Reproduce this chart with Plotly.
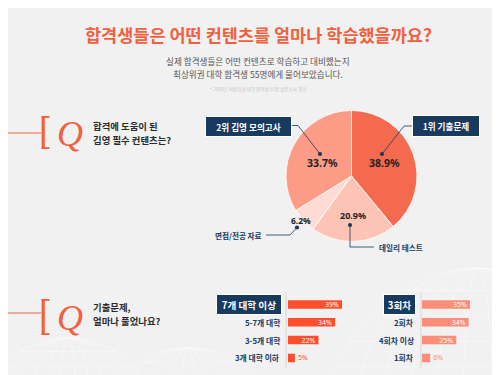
import math
import plotly.graph_objects as go

W, H = 500, 375
def px(x): return x / W
def py(y): return 1 - y / H

# ---------------- data ----------------
title = "합격생들은 어떤 컨텐츠를 얼마나 학습했을까요?"
subtitle1 = "실제 합격생들은 어떤 컨텐츠로 학습하고 대비했는지"
subtitle2 = "최상위권 대학 합격생 55명에게 물어보았습니다."
footnote = "* 2018년 최상위권 대학 합격생 55명 설문조사 결과"

q1_lines = ["합격에 도움이 된", "김영 필수 컨텐츠는?"]
q2_lines = ["기출문제,", "얼마나 풀었나요?"]

pie_labels = ["1위 기출문제", "데일리 테스트", "면접/전공 자료", "2위 김영 모의고사"]
pie_values = [38.9, 20.9, 6.2, 33.7]
pie_colors = ["#f36a4e", "#fdc4b6", "#fedcd3", "#fc9c86"]

univ_cats = ["7개 대학 이상", "5-7개 대학", "3-5개 대학", "3개 대학 이하"]
univ_vals = [39, 34, 22, 5]
round_cats = ["3회차", "2회차", "4회차 이상", "1회차"]
round_vals = [35, 34, 25, 6]

NAVY = "#173a5e"
ORANGE = "#f2603f"
KR = "Noto Sans CJK KR"
BG = "#f1f1f1"

fig = go.Figure()

# ---------------- pie ----------------
cx, cy, r = 343.5, 168.0, 65.5
fig.add_trace(go.Pie(
    values=pie_values, labels=pie_labels, sort=False, direction="clockwise",
    rotation=0, textinfo="none", hoverinfo="skip", showlegend=False,
    marker=dict(colors=pie_colors, line=dict(color="#ffffff", width=0.8)),
    domain=dict(x=[px(cx - r), px(cx + r)], y=[py(cy + r), py(cy - r)]),
))

# ---------------- bars ----------------
def bar_trace(vals, cats, color, xa, ya):
    return go.Bar(
        x=vals, y=cats, orientation="h", width=0.48,
        marker=dict(color=color, line=dict(width=0)),
        text=[f"{v}%" for v in vals],
        textposition=["inside" if v > 8 else "outside" for v in vals],
        insidetextanchor="end", constraintext="none", textangle=0,
        insidetextfont=dict(color="white", size=7, family="Noto Sans"),
        outsidetextfont=dict(color=color, size=7, family="Noto Sans"),
        cliponaxis=False, hoverinfo="skip", showlegend=False,
        xaxis=xa, yaxis=ya,
    )

fig.add_trace(bar_trace(univ_vals, univ_cats, "#ff4e2c", "x", "y"))
fig.add_trace(bar_trace(round_vals, round_cats, "#fc8d78", "x2", "y2"))

row_top, row_bot = 287.6, 358.8
ax_common = dict(showgrid=False, zeroline=False, showticklabels=False, ticks="", showline=False)
layout_axes = dict(
    xaxis=dict(domain=[px(280), px(340)], range=[0, 43.3], **ax_common),
    yaxis=dict(domain=[py(row_bot), py(row_top)], type="category", categoryorder="array",
               categoryarray=univ_cats, range=[3.5, -0.5], anchor="x", **ax_common),
    xaxis2=dict(domain=[px(414), px(474)], range=[0, 43.75], anchor="y2", **ax_common),
    yaxis2=dict(domain=[py(row_bot), py(row_top)], type="category", categoryorder="array",
                categoryarray=round_cats, range=[3.5, -0.5], anchor="x2", **ax_common),
)

shapes = []
annotations = []

def line(x0, y0, x1, y1, color, width, layer="above"):
    shapes.append(dict(type="line", xref="paper", yref="paper", x0=px(x0), y0=py(y0),
                       x1=px(x1), y1=py(y1), line=dict(color=color, width=width), layer=layer))

def path(pts, color, width):
    d = "M " + " L ".join(f"{px(a)},{py(b)}" for a, b in pts)
    shapes.append(dict(type="path", xref="paper", yref="paper", path=d,
                       line=dict(color=color, width=width), layer="above"))

def dot(x, y, rr=2.1, color=NAVY):
    shapes.append(dict(type="circle", xref="paper", yref="paper", x0=px(x - rr), x1=px(x + rr),
                       y0=py(y + rr), y1=py(y - rr), fillcolor=color, line=dict(width=0), layer="above"))

def text(x, y, s, size, color, xanchor="center", weight="normal", family=KR, style="normal"):
    annotations.append(dict(xref="paper", yref="paper", x=px(x), y=py(y), text=s, showarrow=False,
                            xanchor=xanchor, yanchor="middle",
                            font=dict(size=size, color=color, family=family, weight=weight, style=style)))

# decorative faint wireframe globes
GL = "rgba(255,255,255,0.6)"
for (gx, gy, gr) in [(60, 420, 90), (180, 435, 95), (470, 410, 150)]:
    for k in range(6):
        rx = gr * (1 - k * 0.18)
        shapes.append(dict(type="circle", xref="paper", yref="paper", x0=px(gx - rx), x1=px(gx + rx),
                           y0=py(gy + gr), y1=py(gy - gr), line=dict(color=GL, width=0.6), layer="below"))
    for k in range(1, 6):
        yy = gy - gr * k * 0.17
        half = math.sqrt(max(gr * gr - (yy - gy) ** 2, 0))
        line(gx - half, yy, gx + half, yy, GL, 0.6, layer="below")

# title & subtitle
text(250, 26, f"<b>{title}</b>", 17.5, ORANGE, weight=900)
text(250, 52.5, subtitle1, 8.6, "#555555")
text(250, 66, subtitle2, 8.6, "#555555")
text(250, 81.5, footnote, 4.6, "#c4c4c4")

# Q sections
for (ly, top, bot, lines_, l1, l2) in [(125, 108, 141, q1_lines, 118, 131.5),
                                        (305, 291, 327, q2_lines, 299, 312.5)]:
    line(0, ly, 33.5, ly, ORANGE, 1)
    line(35.2, top, 35.2, bot, ORANGE, 3.2)
    line(33.6, top + 0.9, 41.5, top + 0.9, ORANGE, 1.8)
    line(33.6, bot - 0.9, 41.5, bot - 0.9, ORANGE, 1.8)
    text(62, (top + bot) / 2 + 1, "Q", 36, ORANGE, family="Liberation Serif", style="italic")
    text(83, l1, f"<b>{lines_[0]}</b>", 9.4, "#2a2a2a", xanchor="left")
    text(83, l2, f"<b>{lines_[1]}</b>", 9.4, "#2a2a2a", xanchor="left")

# pie percentages
pct_pos = [(376, 155, 10.5), (345, 207, 9), (293, 212, 8.5), (314, 155, 10.5)]
for (x, y, s), v in zip(pct_pos, pie_values):
    text(x, y, f"<b>{v}%</b>", s, "#222222", family="Noto Sans")

# leaders & labels
path([(374, 146), (396, 118), (404, 118)], NAVY, 0.8); dot(374, 146)
path([(342, 217), (342, 239), (366, 239)], NAVY, 0.8); dot(342, 217)
path([(289, 219.5), (282, 227), (258, 227)], NAVY, 0.8); dot(289, 219.5)
path([(312, 146), (290, 117.5), (283, 117.5)], NAVY, 0.8); dot(312, 146)

def box(x, y, w, h, s, size):
    annotations.append(dict(xref="paper", yref="paper", x=px(x), y=py(y), text=f"<b>{s}</b>", showarrow=False,
                            xanchor="center", yanchor="middle", width=w, height=h, bgcolor=NAVY,
                            bordercolor="#ffffff", borderwidth=1, borderpad=0, align="center",
                            font=dict(size=size, color="white", family=KR)))

box(437.5, 118, 66, 20, pie_labels[0], 8.6)
box(240, 118, 85, 19, pie_labels[3], 8.6)
text(393, 239, f"<b>{pie_labels[1]}</b>", 7.6, NAVY)
text(230, 227.5, f"<b>{pie_labels[2]}</b>", 7.6, NAVY)

# bar axis lines
line(278, 284, 278, 360, "#d6d6d6", 1)
line(413, 285, 413, 360, "#d6d6d6", 1)

# bar category labels
def cat_labels(cats, xright, box_center, box_w, axis):
    for i, c in enumerate(cats):
        if i == 0:
            annotations.append(dict(xref="paper", yref=axis, x=px(box_center), y=c, text=f"<b>{c}</b>",
                                    showarrow=False, xanchor="center", yanchor="middle", width=box_w, height=19,
                                    bgcolor=NAVY, bordercolor="#ffffff", borderwidth=1, borderpad=0,
                                    font=dict(size=9.6, color="white", family=KR)))
        else:
            annotations.append(dict(xref="paper", yref=axis, x=px(xright), y=c, text=f"<b>{c}</b>",
                                    showarrow=False, xanchor="right", yanchor="middle",
                                    font=dict(size=7.8, color=NAVY, family=KR)))

cat_labels(univ_cats, 273.5, 240.5, 64, "y")
cat_labels(round_cats, 407.5, 391, 31, "y2")

fig.update_layout(
    width=W, height=H, margin=dict(l=0, r=0, t=0, b=0),
    paper_bgcolor=BG, plot_bgcolor="rgba(0,0,0,0)",
    shapes=shapes, annotations=annotations, barmode="overlay",
    **layout_axes,
)
fig.write_html("out.html")
